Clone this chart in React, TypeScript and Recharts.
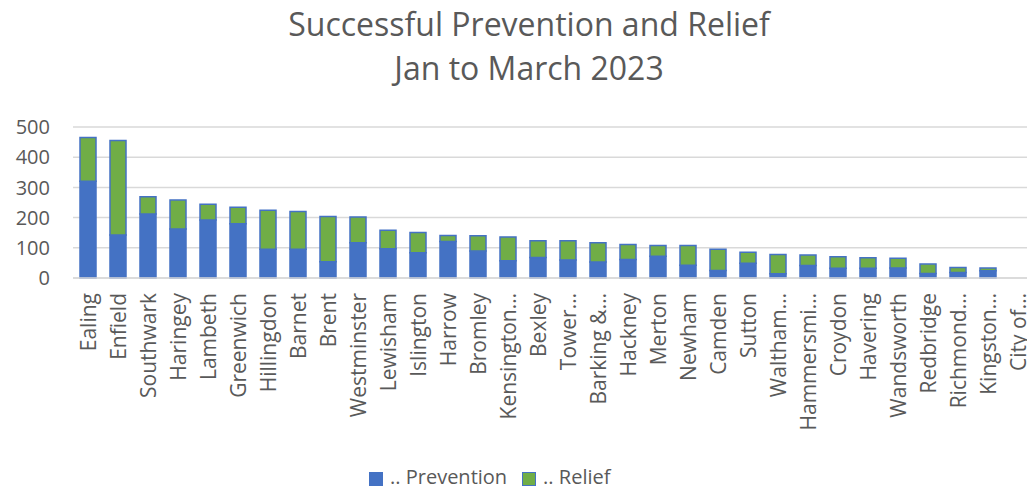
import { BarChart, Bar, XAxis, YAxis, CartesianGrid } from "recharts";

const boroughs = [
  "Ealing", "Enfield", "Southwark", "Haringey", "Lambeth", "Greenwich", "Hillingdon", "Barnet",
  "Brent", "Westminster", "Lewisham", "Islington", "Harrow", "Bromley", "Kensington…", "Bexley",
  "Tower…", "Barking &…", "Hackney", "Merton", "Newham", "Camden", "Sutton", "Waltham…",
  "Hammersmi…", "Croydon", "Havering", "Wandsworth", "Redbridge", "Richmond…", "Kingston…", "City of…",
];

const prevention = [
  320, 142, 212, 162, 192, 180, 95, 95, 54, 117, 97, 84, 121, 89, 57, 68,
  60, 53, 61, 72, 42, 25, 49, 14, 41, 32, 32, 33, 15, 18, 24, 0,
];

const relief = [
  145, 313, 57, 96, 52, 54, 129, 125, 150, 85, 61, 67, 20, 51, 79, 55,
  63, 64, 50, 36, 66, 70, 36, 64, 35, 38, 35, 32, 31, 17, 9, 0,
];

const yTicks = [0, 100, 200, 300, 400, 500];

const BLUE = "#4472C4";
const GREEN = "#70AD47";
const TEXT = "#595959";
const FONT = "'Open Sans', sans-serif";

const data = boroughs.map((name, i) => ({
  name,
  prevention: prevention[i],
  relief: relief[i],
}));

// rotated borough names hanging under the axis
function BoroughTick(props: any) {
  const { x, payload } = props;
  return (
    <text
      transform={`translate(${x},293) rotate(-90)`}
      textAnchor="end"
      dy="0.38em"
      fill={TEXT}
      fontSize={21}
      fontFamily={FONT}
    >
      {payload.value}
    </text>
  );
}

export default function App() {
  return (
    <div
      style={{
        position: "fixed",
        left: 0,
        top: 0,
        width: 1027,
        height: 486,
        overflow: "hidden",
        background: "#fff",
        fontFamily: FONT,
      }}
    >
      <div
        style={{
          position: "absolute",
          left: 0,
          top: 2,
          width: 1058,
          textAlign: "center",
          fontSize: 32,
          lineHeight: "44px",
          color: TEXT,
        }}
      >
        <div>Successful Prevention and Relief</div>
        <div>Jan to March 2023</div>
      </div>

      <BarChart
        width={1040}
        height={486}
        data={data}
        margin={{ top: 127, right: 7, bottom: 0, left: 0 }}
        style={{ position: "absolute", left: 0, top: 0 }}
      >
        <CartesianGrid horizontal vertical={false} stroke="#d9d9d9" strokeWidth={1.5} />
        <XAxis
          dataKey="name"
          interval={0}
          height={208}
          tickLine={false}
          axisLine={{ stroke: "#d9d9d9", strokeWidth: 1.5 }}
          tick={<BoroughTick />}
        />
        <YAxis
          width={73}
          domain={[0, 500]}
          ticks={yTicks}
          tickLine={false}
          axisLine={false}
          tickSize={0}
          tickMargin={23}
          tick={{ fill: TEXT, fontSize: 20, fontFamily: FONT }}
        />
        <Bar dataKey="prevention" stackId="a" fill={BLUE} stroke={BLUE} strokeWidth={1.5} barSize={16} isAnimationActive={false} />
        <Bar dataKey="relief" stackId="a" fill={GREEN} stroke={BLUE} strokeWidth={1.5} barSize={16} isAnimationActive={false} />
      </BarChart>

      <div
        style={{
          position: "absolute",
          left: 369,
          top: 463,
          display: "flex",
          alignItems: "center",
          fontSize: 20,
          color: TEXT,
          whiteSpace: "nowrap",
        }}
      >
        <span style={{ width: 12, height: 12, background: BLUE, border: `1px solid ${BLUE}`, marginRight: 7, marginTop: 4 }} />
        <span style={{ marginRight: 15 }}>.. Prevention</span>
        <span style={{ width: 12, height: 12, background: GREEN, border: `1px solid ${BLUE}`, marginRight: 7, marginTop: 4 }} />
        <span>.. Relief</span>
      </div>
    </div>
  );
}
